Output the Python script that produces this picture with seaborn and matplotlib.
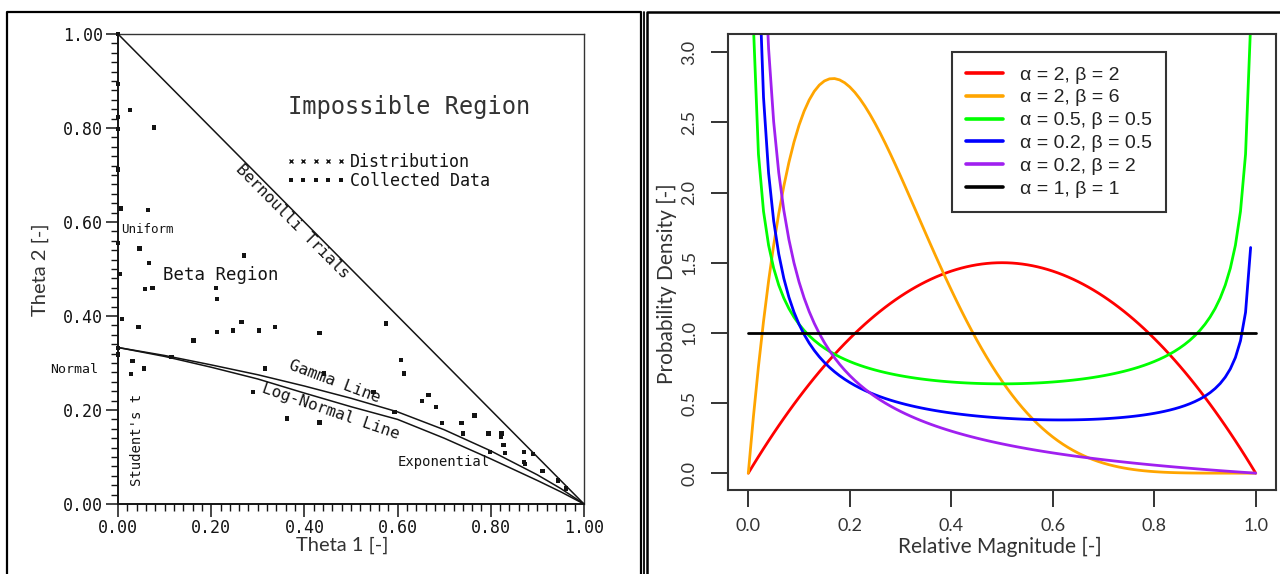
import math
import numpy as np
import matplotlib
matplotlib.use("Agg")
import matplotlib.pyplot as plt
import seaborn as sns
from matplotlib.lines import Line2D
from matplotlib.ticker import MultipleLocator, FormatStrFormatter

# ---------------- Left: moment-ratio diagram ----------------
theta1_data = [0.000, 0.000, 0.026, 0.000, 0.000, 0.077, 0.000, 0.006, 0.065, 0.000,
               0.046, 0.270, 0.067, 0.004, 0.058, 0.074, 0.210, 0.212, 0.008, 0.044,
               0.212, 0.247, 0.265, 0.303, 0.337, 0.432, 0.162, 0.000, 0.000, 0.031,
               0.028, 0.056, 0.115, 0.315, 0.442, 0.290, 0.363, 0.432, 0.575, 0.607,
               0.614, 0.548, 0.593, 0.652, 0.666, 0.682, 0.695, 0.737, 0.740, 0.765,
               0.795, 0.823, 0.822, 0.827, 0.830, 0.798, 0.871, 0.891, 0.871, 0.873,
               0.911, 0.944, 0.961]
theta2_data = [1.000, 0.894, 0.838, 0.823, 0.798, 0.801, 0.712, 0.629, 0.626, 0.555,
               0.544, 0.529, 0.513, 0.490, 0.457, 0.459, 0.459, 0.436, 0.393, 0.377,
               0.366, 0.369, 0.387, 0.369, 0.377, 0.364, 0.348, 0.332, 0.318, 0.304,
               0.276, 0.288, 0.313, 0.288, 0.278, 0.238, 0.182, 0.173, 0.384, 0.306,
               0.278, 0.238, 0.196, 0.219, 0.232, 0.206, 0.172, 0.172, 0.150, 0.188,
               0.150, 0.150, 0.142, 0.125, 0.109, 0.111, 0.111, 0.106, 0.090, 0.085,
               0.070, 0.050, 0.033]

bernoulli_t1 = [0.0, 1.0]
bernoulli_t2 = [1.0, 0.0]

curve_t1 = [0.0, 0.1, 0.2, 0.3, 0.4, 0.5, 0.6, 0.7, 0.8, 0.9, 0.95, 1.0]
gamma_t2 = [0.333, 0.316, 0.296, 0.275, 0.251, 0.225, 0.196, 0.158, 0.113, 0.062, 0.033, 0.0]
lognormal_t2 = [0.333, 0.314, 0.291, 0.266, 0.236, 0.207, 0.180, 0.140, 0.096, 0.050, 0.026, 0.0]

ratio_ticks = [0.0, 0.2, 0.4, 0.6, 0.8, 1.0]

# ---------------- Right: beta densities ----------------
alphas = [2, 2, 0.5, 0.2, 0.2, 1]
betas = [2, 6, 0.5, 0.5, 2, 1]
curve_colors = ["#ff0000", "#ffa500", "#00ff00", "#0000ff", "#a020f0", "#000000"]
curve_labels = ["α = 2, β = 2", "α = 2, β = 6", "α = 0.5, β = 0.5",
                "α = 0.2, β = 0.5", "α = 0.2, β = 2", "α = 1, β = 1"]
magnitude = np.round(np.arange(0, 101) / 100, 2)
density_ticks = [0.0, 0.5, 1.0, 1.5, 2.0, 2.5, 3.0]
magnitude_ticks = [0.0, 0.2, 0.4, 0.6, 0.8, 1.0]


def beta_pdf(x, a, b):
    norm = math.gamma(a) * math.gamma(b) / math.gamma(a + b)
    with np.errstate(divide="ignore", invalid="ignore"):
        return x ** (a - 1) * (1 - x) ** (b - 1) / norm


sns.set_theme(style="ticks")
plt.rcParams["font.family"] = ["DejaVu Sans"]

W, H = 1280, 574
fig = plt.figure(figsize=(W / 100, H / 100), dpi=100)


def fpos(x, y):
    return x / W, 1 - y / H


def axes_rect(x0, y0, x1, y1):
    return [x0 / W, 1 - y1 / H, (x1 - x0) / W, (y1 - y0) / H]


ink = "#141414"
mono = "DejaVu Sans Mono"

# ---------- left panel ----------
ax1 = fig.add_axes(axes_rect(118, 34, 584, 504))
sns.lineplot(x=bernoulli_t1, y=bernoulli_t2, ax=ax1, color=ink, lw=1.1,
             sort=False, estimator=None)
sns.lineplot(x=curve_t1, y=gamma_t2, ax=ax1, color=ink, lw=1.1,
             sort=False, estimator=None)
sns.lineplot(x=curve_t1, y=lognormal_t2, ax=ax1, color=ink, lw=1.1,
             sort=False, estimator=None)
sns.scatterplot(x=theta1_data, y=theta2_data, ax=ax1, marker="s", s=10,
                color=ink, edgecolor="none", clip_on=False, zorder=4)

ax1.set_xlim(0, 1)
ax1.set_ylim(0, 1)
ax1.set_xticks(ratio_ticks)
ax1.set_yticks(ratio_ticks)
ax1.xaxis.set_minor_locator(MultipleLocator(0.02))
ax1.yaxis.set_minor_locator(MultipleLocator(0.02))
ax1.xaxis.set_major_formatter(FormatStrFormatter("%.2f"))
ax1.yaxis.set_major_formatter(FormatStrFormatter("%.2f"))
ax1.tick_params(which="major", direction="out", length=9, width=1.1,
                color=ink, labelcolor=ink, pad=2)
ax1.tick_params(which="minor", direction="out", length=5, width=1.0, color=ink)
for lab in ax1.get_xticklabels() + ax1.get_yticklabels():
    lab.set_fontfamily(mono)
    lab.set_fontsize(12)
for side in ["left", "bottom"]:
    ax1.spines[side].set_linewidth(1.4)
    ax1.spines[side].set_color(ink)
for side in ["top", "right"]:
    ax1.spines[side].set_linewidth(1.0)
    ax1.spines[side].set_color("#333333")
ax1.set_xlabel("")
ax1.set_ylabel("")

ax1.text(0.625, 0.845, "Impossible Region", fontsize=17, family=mono,
         color="#333333", ha="center", va="center")
ax1.text(0.385, 0.612, "Bernoulli Trials", fontsize=11.5, family=mono, color=ink,
         ha="center", va="top", rotation=-45, rotation_mode="anchor",
         transform_rotates_text=True)
ax1.text(0.006, 0.585, "Uniform", fontsize=9, family=mono, color=ink,
         ha="left", va="center")
ax1.text(0.097, 0.487, "Beta Region", fontsize=12.5, family=mono, color=ink,
         ha="left", va="center")
ax1.text(-0.043, 0.287, "Normal", fontsize=9.5, family=mono, color=ink,
         ha="right", va="center", clip_on=False)
ax1.text(0.041, 0.136, "Student's t", fontsize=10, family=mono, color=ink,
         ha="center", va="center", rotation=90)
ax1.text(0.46, 0.245, "Gamma Line", fontsize=11.5, family=mono, color=ink,
         ha="center", va="bottom", rotation=-20.5, rotation_mode="anchor")
ax1.text(0.462, 0.212, "Log-Normal Line", fontsize=11.5, family=mono, color=ink,
         ha="center", va="top", rotation=-19, rotation_mode="anchor")
ax1.text(0.601, 0.09, "Exponential", fontsize=10, family=mono, color=ink,
         ha="left", va="center")

key_handles = [
    Line2D([], [], ls="none", marker="x", ms=3.5, mew=1.0, color=ink),
    Line2D([], [], ls="none", marker="s", ms=2.8, mew=0, color=ink),
]
ax1.legend(key_handles, ["Distribution", "Collected Data"], numpoints=5,
           loc="center left", bbox_to_anchor=(0.36, 0.707), frameon=False,
           prop={"family": mono, "size": 12}, handlelength=3.6,
           handletextpad=0.25, labelspacing=0.05, borderpad=0,
           borderaxespad=0, labelcolor=ink)

fig.text(*fpos(342, 545), "Theta 1 [-]", fontsize=14.5, family="Lato",
         color="#333333", ha="center", va="center")
fig.text(*fpos(40, 270), "Theta 2 [-]", fontsize=14.5, family="Lato",
         color="#333333", ha="center", va="center", rotation=90)

# ---------- right panel ----------
ax2 = fig.add_axes(axes_rect(728, 34, 1276, 490))
for a, b, col in zip(alphas, betas, curve_colors):
    dens = beta_pdf(magnitude, a, b)
    keep = np.isfinite(dens)
    sns.lineplot(x=magnitude[keep], y=dens[keep], ax=ax2, color=col, lw=2,
                 sort=False, estimator=None)

ax2.set_xlim(-0.04, 1.04)
ax2.set_ylim(-0.12, 3.13)
ax2.set_xticks(magnitude_ticks)
ax2.set_xticklabels([f"{v:.1f}" for v in magnitude_ticks])
ax2.set_yticks(density_ticks)
ax2.set_yticklabels([f"{v:.1f}" for v in density_ticks], rotation=90, va="center")
frame_col = "#333333"
ax2.tick_params(axis="both", direction="out", length=12, width=1.4,
                color=frame_col, labelcolor="#333333", labelsize=13)
ax2.tick_params(axis="x", pad=8)
ax2.tick_params(axis="y", pad=10)
for lab in ax2.get_xticklabels() + ax2.get_yticklabels():
    lab.set_fontfamily("Lato")
for side in ["left", "bottom", "top", "right"]:
    ax2.spines[side].set_linewidth(1.5)
    ax2.spines[side].set_color(frame_col)
ax2.set_xlabel("")
ax2.set_ylabel("")

leg = ax2.legend(ax2.get_lines()[:6], curve_labels, loc="upper left",
                 bbox_to_anchor=(0.409, 0.9605), borderaxespad=0,
                 prop={"family": "Liberation Sans", "size": 14},
                 handlelength=1.9, handletextpad=0.85, labelspacing=0.27,
                 borderpad=0.72, frameon=True, fancybox=False,
                 edgecolor=frame_col, framealpha=1, labelcolor="#222222")
leg.get_frame().set_linewidth(1.5)
for hl in leg.get_lines():
    hl.set_linewidth(2.6)

fig.text(*fpos(1000, 547), "Relative Magnitude [-]", fontsize=15, family="Lato",
         color="#333333", ha="center", va="center")
fig.text(*fpos(667, 284), "Probability Density [-]", fontsize=15, family="Lato",
         color="#333333", ha="center", va="center", rotation=90)

# ---------- panel frames ----------
def frame_line(xs, ys, lw=1.8):
    fig.add_artist(Line2D([x / W for x in xs], [1 - y / H for y in ys],
                          transform=fig.transFigure, color="black", lw=lw))

frame_line([7, 7, 640.5, 640.5], [580, 12, 12, 580], lw=1.6)
frame_line([643.5, 643.5], [12, 580], lw=1.3)
frame_line([647, 647, 1282], [580, 12, 12])

fig.savefig("out.png", dpi=100, facecolor="white")
